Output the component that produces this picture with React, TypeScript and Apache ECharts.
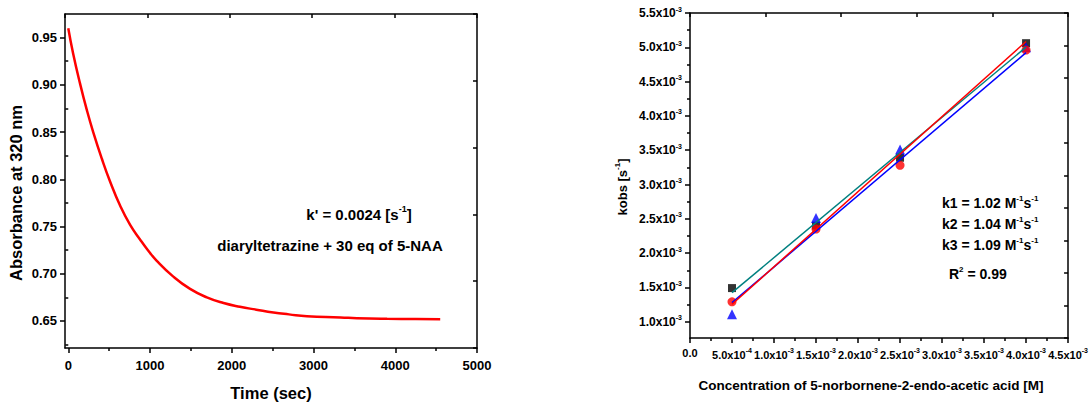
import React, { useEffect, useRef } from 'react';
import * as echarts from 'echarts';

// ---------- Left panel data ----------
const timeSec = [0, 60, 145, 225, 305, 410, 510, 635, 755, 880, 965, 1080, 1285, 1490, 1695, 1900, 2100, 2300, 2510, 2700, 2920, 3330, 3530, 3900, 4250, 4550];
const absorbance = [0.960, 0.933, 0.901, 0.874, 0.850, 0.822, 0.798, 0.772, 0.752, 0.736, 0.726, 0.714, 0.697, 0.684, 0.675, 0.669, 0.665, 0.662, 0.659, 0.657, 0.655, 0.6538, 0.6530, 0.6523, 0.652, 0.6518];
const timeTicks = [0, 1000, 2000, 3000, 4000, 5000];
const timeTickLabels = ['0', '1000', '2000', '3000', '4000', '5000'];
const timeMinorTicks = [500, 1500, 2500, 3500, 4500];
const absTicks = [0.65, 0.70, 0.75, 0.80, 0.85, 0.90, 0.95];
const absTickLabels = ['0.65', '0.70', '0.75', '0.80', '0.85', '0.90', '0.95'];
const absMinorTicks = [0.625, 0.675, 0.725, 0.775, 0.825, 0.875, 0.925];

// ---------- Right panel data ----------
const concentration = [0.5e-3, 1.5e-3, 2.5e-3, 4.0e-3];
const kobsSquares = [1.49e-3, 2.40e-3, 3.39e-3, 5.06e-3];
const kobsCircles = [1.29e-3, 2.35e-3, 3.28e-3, 4.96e-3];
const kobsTriangles = [1.11e-3, 2.51e-3, 3.51e-3, 5.00e-3];
const concTicks = [0, 0.5e-3, 1.0e-3, 1.5e-3, 2.0e-3, 2.5e-3, 3.0e-3, 3.5e-3, 4.0e-3, 4.5e-3];
const concTickMant = ['0.0', '5.0x10', '1.0x10', '1.5x10', '2.0x10', '2.5x10', '3.0x10', '3.5x10', '4.0x10', '4.5x10'];
const concTickExp = ['', '-4', '-3', '-3', '-3', '-3', '-3', '-3', '-3', '-3'];
const concMinorTicks = [0.25e-3, 0.75e-3, 1.25e-3, 1.75e-3, 2.25e-3, 2.75e-3, 3.25e-3, 3.75e-3, 4.25e-3];
const kobsTicks = [1.0e-3, 1.5e-3, 2.0e-3, 2.5e-3, 3.0e-3, 3.5e-3, 4.0e-3, 4.5e-3, 5.0e-3, 5.5e-3];
const kobsTickMant = ['1.0x10', '1.5x10', '2.0x10', '2.5x10', '3.0x10', '3.5x10', '4.0x10', '4.5x10', '5.0x10', '5.5x10'];
const kobsTickExp = ['-3', '-3', '-3', '-3', '-3', '-3', '-3', '-3', '-3', '-3'];
const kobsMinorTicks = [0.75e-3, 1.25e-3, 1.75e-3, 2.25e-3, 2.75e-3, 3.25e-3, 3.75e-3, 4.25e-3, 4.75e-3, 5.25e-3];

const F = "'Liberation Sans', Arial, Helvetica, sans-serif";

function linearFit(xs: number[], ys: number[]) {
  const n = xs.length;
  const mx = xs.reduce((a, b) => a + b, 0) / n;
  const my = ys.reduce((a, b) => a + b, 0) / n;
  let sxy = 0, sxx = 0;
  for (let i = 0; i < n; i++) {
    sxy += (xs[i] - mx) * (ys[i] - my);
    sxx += (xs[i] - mx) * (xs[i] - mx);
  }
  const b = sxy / sxx;
  const a = my - b * mx;
  return [[xs[0], a + b * xs[0]], [xs[n - 1], a + b * xs[n - 1]]];
}

function rich(size: number, supSize: number, pad: number) {
  return {
    n: { fontSize: size, fontWeight: 'bold', fontFamily: F, color: '#000' },
    s: { fontSize: supSize, fontWeight: 'bold', fontFamily: F, color: '#000', padding: [0, 0, pad, 0] },
  };
}

function findIdx(arr: number[], v: number) {
  return arr.findIndex((t) => Math.abs(t - v) < 1e-9);
}

const lineStyleBlack = { color: '#000', width: 1.5 };

function baseAxis(extra: any) {
  return {
    type: 'value',
    splitLine: { show: false },
    axisLine: { show: true, onZero: false, lineStyle: lineStyleBlack },
    ...extra,
  };
}

export default function App() {
  const ref = useRef<HTMLDivElement>(null);
  useEffect(() => {
    const chart = echarts.init(ref.current!, null, { renderer: 'svg' });

    const xMinL = -40, xMaxL = 5000, yMinL = 0.6214, yMaxL = 0.975;
    const xMinR = 0, xMaxR = 4.5e-3, yMinR = 0.7624e-3, yMaxR = 5.5e-3;

    const xAxis: any[] = [
      // left panel
      baseAxis({
        gridIndex: 0, position: 'bottom', min: xMinL, max: xMaxL,
        axisTick: { customValues: timeTicks, length: 5, lineStyle: lineStyleBlack },
        axisLabel: {
          customValues: timeTicks, fontSize: 13, fontWeight: 'bold', fontFamily: F, color: '#000', margin: 11,
          formatter: (v: number) => {
            const i = findIdx(timeTicks, v);
            return i < 0 ? '' : timeTickLabels[i];
          },
        },
      }),
      baseAxis({
        gridIndex: 0, position: 'bottom', min: xMinL, max: xMaxL,
        axisLine: { show: false },
        axisTick: { customValues: timeMinorTicks, length: 3, lineStyle: lineStyleBlack },
        axisLabel: { show: false },
      }),
      baseAxis({
        gridIndex: 0, position: 'top', min: 0, max: 5, interval: 1,
        axisTick: { inside: true, length: 4, lineStyle: lineStyleBlack },
        axisLabel: { show: false },
      }),
      // right panel
      baseAxis({
        gridIndex: 1, position: 'bottom', min: xMinR, max: xMaxR,
        axisTick: { customValues: concTicks, length: 5, lineStyle: lineStyleBlack },
        axisLabel: {
          customValues: concTicks, margin: 9,
          formatter: (v: number) => {
            const i = findIdx(concTicks, v);
            if (i < 0) return '';
            return concTickExp[i] ? `{n|${concTickMant[i]}}{s|${concTickExp[i]}}` : `{n|${concTickMant[i]}}`;
          },
          rich: rich(11, 7, 8),
        },
      }),
      baseAxis({
        gridIndex: 1, position: 'bottom', min: xMinR, max: xMaxR,
        axisLine: { show: false },
        axisTick: { customValues: concMinorTicks, length: 3, lineStyle: lineStyleBlack },
        axisLabel: { show: false },
      }),
      baseAxis({
        gridIndex: 1, position: 'top', min: 0, max: 5, interval: 1,
        axisTick: { inside: true, length: 4, lineStyle: lineStyleBlack },
        axisLabel: { show: false },
      }),
    ];

    const yAxis: any[] = [
      baseAxis({
        gridIndex: 0, position: 'left', min: yMinL, max: yMaxL,
        axisTick: { customValues: absTicks, length: 5, lineStyle: lineStyleBlack },
        axisLabel: {
          customValues: absTicks, fontSize: 13, fontWeight: 'bold', fontFamily: F, color: '#000', margin: 8,
          formatter: (v: number) => {
            const i = findIdx(absTicks, v);
            return i < 0 ? '' : absTickLabels[i];
          },
        },
      }),
      baseAxis({
        gridIndex: 0, position: 'left', min: yMinL, max: yMaxL,
        axisLine: { show: false },
        axisTick: { customValues: absMinorTicks, length: 3, lineStyle: lineStyleBlack },
        axisLabel: { show: false },
      }),
      baseAxis({
        gridIndex: 0, position: 'right', min: 0, max: 5, interval: 1,
        axisTick: { inside: true, length: 4, lineStyle: lineStyleBlack },
        axisLabel: { show: false },
      }),
      baseAxis({
        gridIndex: 1, position: 'left', min: yMinR, max: yMaxR,
        axisTick: { customValues: kobsTicks, length: 5, lineStyle: lineStyleBlack },
        axisLabel: {
          customValues: kobsTicks, margin: 8,
          formatter: (v: number) => {
            const i = findIdx(kobsTicks, v);
            if (i < 0) return '';
            return `{n|${kobsTickMant[i]}}{s|${kobsTickExp[i]}}`;
          },
          rich: rich(12, 7, 8),
        },
      }),
      baseAxis({
        gridIndex: 1, position: 'left', min: yMinR, max: yMaxR,
        axisLine: { show: false },
        axisTick: { customValues: kobsMinorTicks, length: 3, lineStyle: lineStyleBlack },
        axisLabel: { show: false },
      }),
      baseAxis({
        gridIndex: 1, position: 'right', min: 0, max: 10, interval: 1,
        axisTick: { inside: true, length: 4, lineStyle: lineStyleBlack },
        axisLabel: { show: false },
      }),
    ];

    // fit lines: squares -> teal, circles -> blue, triangles -> red (as in the original)
    const fitSquares = linearFit(concentration, kobsSquares);
    const fitCircles = linearFit(concentration, kobsCircles);
    const fitTriangles = linearFit(concentration, kobsTriangles);
    const zip = (xs: number[], ys: number[]) => xs.map((x, i) => [x, ys[i]]);

    const R = { xAxisIndex: 3, yAxisIndex: 3 };

    const option: any = {
      animation: false,
      backgroundColor: '#fff',
      grid: [
        { left: 65, top: 14, width: 412, height: 334 },
        { left: 690, top: 13, width: 381, height: 325 },
      ],
      xAxis,
      yAxis,
      series: [
        {
          type: 'line', xAxisIndex: 0, yAxisIndex: 0,
          data: zip(timeSec, absorbance), smooth: 0.5, showSymbol: false,
          lineStyle: { color: '#ff0000', width: 2.5 },
        },
        { type: 'line', ...R, data: fitSquares, showSymbol: false, lineStyle: { color: '#008080', width: 1.5 } },
        { type: 'line', ...R, data: fitCircles, showSymbol: false, lineStyle: { color: '#0000ff', width: 1.5 } },
        { type: 'line', ...R, data: fitTriangles, showSymbol: false, lineStyle: { color: '#ff0000', width: 1.5 } },
        { type: 'scatter', ...R, data: zip(concentration, kobsSquares), symbol: 'rect', symbolSize: 8, itemStyle: { color: '#000' } },
        { type: 'scatter', ...R, data: zip(concentration, kobsTriangles), symbol: 'triangle', symbolSize: 10, itemStyle: { color: '#0000ff' } },
        { type: 'scatter', ...R, data: zip(concentration, kobsCircles), symbol: 'circle', symbolSize: 9, itemStyle: { color: '#ff0000' } },
      ],
      graphic: [
        {
          type: 'text', x: 16, y: 193, rotation: Math.PI / 2,
          style: { text: 'Absorbance at 320 nm', fontSize: 16.5, fontWeight: 'bold', fontFamily: F, fill: '#000', align: 'center', verticalAlign: 'middle' },
        },
        {
          type: 'text', x: 271, y: 393,
          style: { text: 'Time (sec)', fontSize: 16.5, fontWeight: 'bold', fontFamily: F, fill: '#000', align: 'center', verticalAlign: 'middle' },
        },
        {
          type: 'text', x: 359, y: 214,
          style: { text: "{n|k' = 0.0024 [s}{s|-1}{n|]}", rich: rich(15, 9, 10), align: 'center', verticalAlign: 'middle' },
        },
        {
          type: 'text', x: 330, y: 245,
          style: { text: 'diaryltetrazine + 30 eq of 5-NAA', fontSize: 15, fontWeight: 'bold', fontFamily: F, fill: '#000', align: 'center', verticalAlign: 'middle' },
        },
        {
          type: 'text', x: 622, y: 187, rotation: Math.PI / 2,
          style: { text: '{n|kobs [s}{s|-1}{n|]}', rich: rich(13, 8, 9), align: 'center', verticalAlign: 'middle' },
        },
        {
          type: 'text', x: 871, y: 385,
          style: { text: 'Concentration of 5-norbornene-2-endo-acetic acid [M]', fontSize: 13.5, fontWeight: 'bold', fontFamily: F, fill: '#000', align: 'center', verticalAlign: 'middle' },
        },
        {
          type: 'text', x: 942, y: 203,
          style: { text: '{n|k1 = 1.02 M}{s|-1}{n|s}{s|-1}', rich: rich(14, 8, 10), align: 'left', verticalAlign: 'middle' },
        },
        {
          type: 'text', x: 942, y: 224,
          style: { text: '{n|k2 = 1.04 M}{s|-1}{n|s}{s|-1}', rich: rich(14, 8, 10), align: 'left', verticalAlign: 'middle' },
        },
        {
          type: 'text', x: 942, y: 245,
          style: { text: '{n|k3 = 1.09 M}{s|-1}{n|s}{s|-1}', rich: rich(14, 8, 10), align: 'left', verticalAlign: 'middle' },
        },
        {
          type: 'text', x: 949, y: 274,
          style: { text: '{n|R}{s|2}{n| = 0.99}', rich: rich(14, 8, 10), align: 'left', verticalAlign: 'middle' },
        },
      ],
    };

    chart.setOption(option);
    return () => chart.dispose();
  }, []);

  return (
    <div
      ref={ref}
      style={{ position: 'absolute', left: 0, top: 0, width: 1091, height: 402, background: '#fff' }}
    />
  );
}
